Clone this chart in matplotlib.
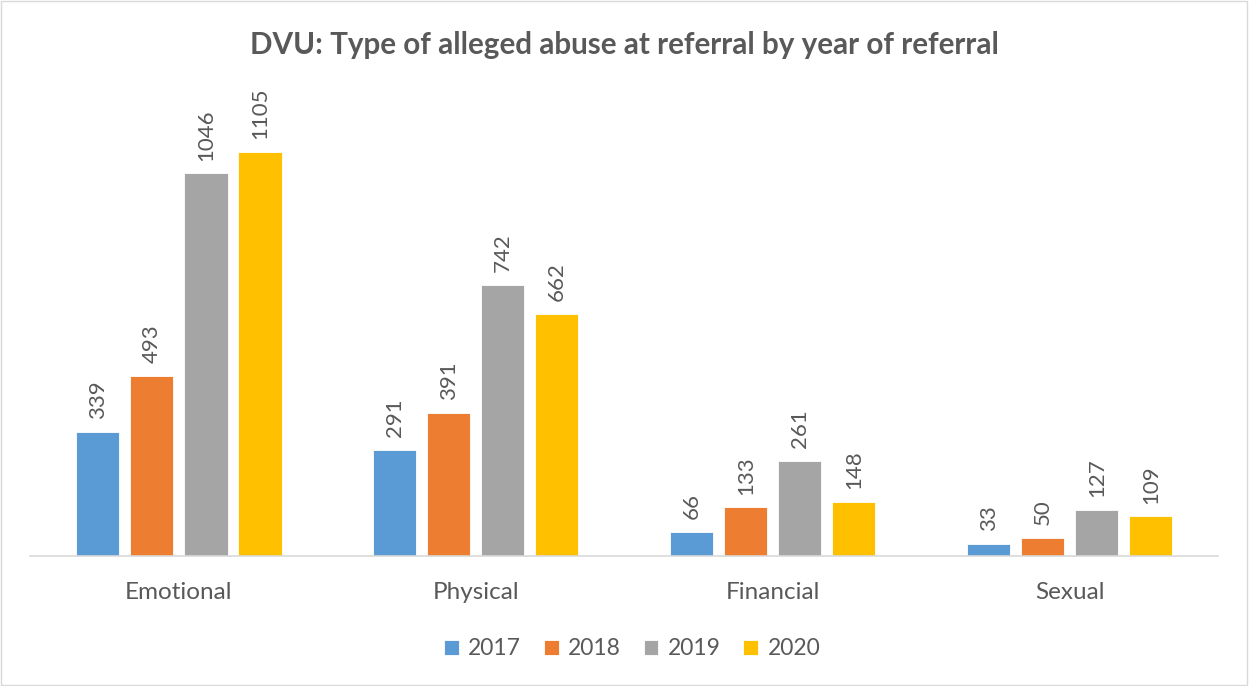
import numpy as np
import matplotlib
matplotlib.use("Agg")
import matplotlib.pyplot as plt
from matplotlib.patches import Rectangle

plt.rcParams['font.family'] = ['Lato', 'DejaVu Sans']

categories = ['Emotional', 'Physical', 'Financial', 'Sexual']
years = ['2017', '2018', '2019', '2020']
values = {
    '2017': [339, 291, 66, 33],
    '2018': [493, 391, 133, 50],
    '2019': [1046, 742, 261, 127],
    '2020': [1105, 662, 148, 109],
}
colors = ['#5B9BD5', '#ED7D31', '#A5A5A5', '#FFC000']
text_col = '#595959'

fig = plt.figure(figsize=(12.49, 6.86), dpi=100)
ax = fig.add_axes([0.0244, 0.1895, 0.951, 0.640])

x = np.arange(len(categories))
step = 0.182
width = 0.145
for i, yr in enumerate(years):
    pos = x + (i - 1.5) * step
    bars = ax.bar(pos, values[yr], width, color=colors[i], label=yr,
                  edgecolor='white', linewidth=0.6)
    for b, v in zip(bars, values[yr]):
        ax.annotate(str(v), (b.get_x() + b.get_width() / 2, v),
                    xytext=(0, 9), textcoords='offset points',
                    rotation=90, ha='center', va='bottom',
                    fontsize=16, color=text_col)

ax.set_xlim(-0.5, 3.5)
ax.set_ylim(0, 1200)
ax.set_yticks([])
ax.set_xticks(x)
ax.set_xticklabels(categories, fontsize=17.5, color=text_col)
ax.tick_params(axis='x', length=0, pad=19)
for s in ['top', 'right', 'left']:
    ax.spines[s].set_visible(False)
ax.spines['bottom'].set_color('#D9D9D9')
ax.spines['bottom'].set_linewidth(1.2)

fig.text(0.5, 0.934, 'DVU: Type of alleged abuse at referral by year of referral',
         ha='center', va='center', fontsize=21.3, fontweight='bold', color=text_col)

leg = fig.legend(loc='center', bbox_to_anchor=(0.506, 0.054), ncol=4, frameon=False,
                 fontsize=16.5, handlelength=0.65, handleheight=0.65,
                 handletextpad=0.4, columnspacing=1.0)
for t in leg.get_texts():
    t.set_color(text_col)

fig.patches.append(Rectangle((0.001, 0.001), 0.997, 0.997, transform=fig.transFigure,
                             fill=False, edgecolor='#D9D9D9', linewidth=1))

fig.savefig('out.png', dpi=100)
